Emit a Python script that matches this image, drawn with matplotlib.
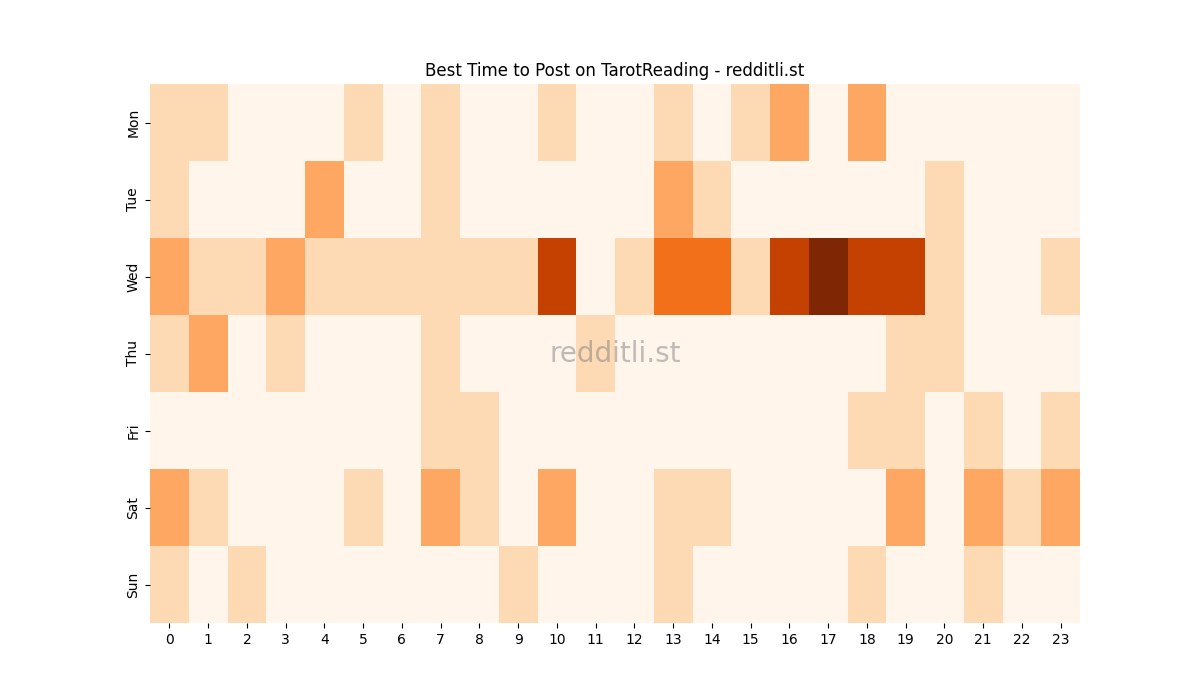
import numpy as np
import pandas as pd
import seaborn as sns
from matplotlib import pyplot as plt

days = ["Mon", "Tue", "Wed", "Thu", "Fri", "Sat", "Sun"]
hours = list(range(24))

# posts per hour, one list per weekday
mon = [1, 1, 0, 0, 0, 1, 0, 1, 0, 0, 1, 0, 0, 1, 0, 1, 2, 0, 2, 0, 0, 0, 0, 0]
tue = [1, 0, 0, 0, 2, 0, 0, 1, 0, 0, 0, 0, 0, 2, 1, 0, 0, 0, 0, 0, 1, 0, 0, 0]
wed = [2, 1, 1, 2, 1, 1, 1, 1, 1, 1, 4, 0, 1, 3, 3, 1, 4, 5, 4, 4, 1, 0, 0, 1]
thu = [1, 2, 0, 1, 0, 0, 0, 1, 0, 0, 0, 1, 0, 0, 0, 0, 0, 0, 0, 1, 1, 0, 0, 0]
fri = [0, 0, 0, 0, 0, 0, 0, 1, 1, 0, 0, 0, 0, 0, 0, 0, 0, 0, 1, 1, 0, 1, 0, 1]
sat = [2, 1, 0, 0, 0, 1, 0, 2, 1, 0, 2, 0, 0, 1, 1, 0, 0, 0, 0, 2, 0, 2, 1, 2]
sun = [1, 0, 1, 0, 0, 0, 0, 0, 0, 1, 0, 0, 0, 1, 0, 0, 0, 0, 1, 0, 0, 1, 0, 0]

df = pd.DataFrame([mon, tue, wed, thu, fri, sat, sun], index=days, columns=hours)

fig, ax = plt.subplots(figsize=(12, 7), dpi=100)
sns.heatmap(df, cmap="Oranges", vmin=0, vmax=5, cbar=False, ax=ax)
ax.set_yticklabels(days, rotation=90, va="center")
ax.set_xticklabels(hours, rotation=0)
ax.set_title("Best Time to Post on TarotReading - redditli.st")

# watermark
ax.text(0.5, 0.5, "redditli.st", transform=ax.transAxes, fontsize=20,
        color="gray", alpha=0.5, ha="center", va="center")

plt.savefig("out.png")
